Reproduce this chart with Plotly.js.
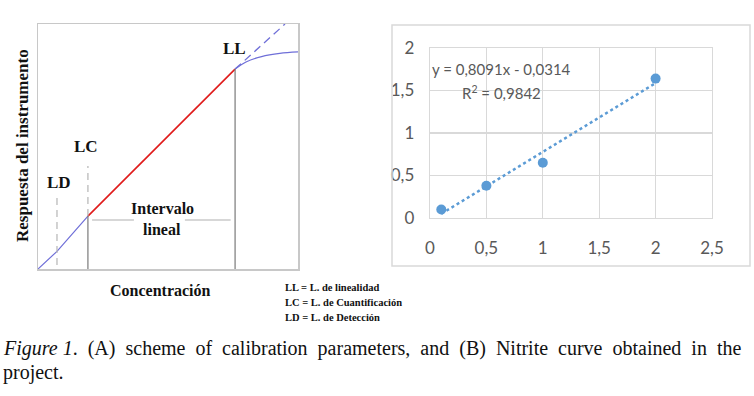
<!DOCTYPE html>
<html><head><meta charset="utf-8">
<script src="https://cdn.plot.ly/plotly-3.0.1.min.js"></script>
<style>html,body{margin:0;padding:0;background:#fff}#c{width:754px;height:396px}</style>
</head><body><div id="c"></div>
<script>
// ---- Panel B data (Nitrite calibration) ----
const concX = [0.1, 0.5, 1, 2];
const respY = [0.1, 0.38, 0.65, 1.64];
const trendX = [0.1, 2];
const trendY = [0.049, 1.587];
const xTickVals = [0, 0.5, 1, 1.5, 2, 2.5];
const xTickText = ['0', '0,5', '1', '1,5', '2', '2,5'];
const yTickVals = [0, 0.5, 1, 1.5, 2];
const yTickText = ['0', '0,5', '1', '1,5', '2'];

// ---- Panel A scheme (abstract units) ----
const lowX = [0, 0.5, 0.73, 1.92];
const lowY = [0, 0.5, 0.72, 2.16];
const linX = [1.92, 7.58];
const linY = [2.16, 8.16];
const extX = [7.58, 9.5];
const extY = [8.16, 10];
const satX = [7.58, 8.0, 8.6, 9.3, 10];
const satY = [8.16, 8.45, 8.67, 8.8, 8.86];
const ldX = [0.73, 0.73], ldY = [0.16, 3.02];
const lcDashX = [1.92, 1.92], lcDashY = [2.16, 4.2];
const lcSolX = [1.92, 1.92], lcSolY = [0, 2.16];
const llX = [7.58, 7.58], llY = [0, 8.16];
const ivX = [2.08, 3.69, null, 5.65, 7.41], ivY = [2.0, 2.0, null, 2.0, 2.0];

const W = 754, H = 396;
const px = v => v / W, py = v => 1 - v / H;

const serif = 'Liberation Serif, Times New Roman, serif';
const sans = 'Lato, Liberation Sans, sans-serif';
const blue = '#6f6fd8';

const traces = [
  {x: lowX, y: lowY, xaxis: 'x2', yaxis: 'y2', mode: 'lines', line: {color: blue, width: 1.2}},
  {x: linX, y: linY, xaxis: 'x2', yaxis: 'y2', mode: 'lines', line: {color: '#e01b1b', width: 1.6}},
  {x: extX, y: extY, xaxis: 'x2', yaxis: 'y2', mode: 'lines', line: {color: blue, width: 1.3, dash: '8px,5px'}},
  {x: satX, y: satY, xaxis: 'x2', yaxis: 'y2', mode: 'lines', line: {color: blue, width: 1.3, shape: 'spline'}},
  {x: ldX, y: ldY, xaxis: 'x2', yaxis: 'y2', mode: 'lines', line: {color: '#b5b5b5', width: 1.2, dash: '7px,5px'}},
  {x: lcDashX, y: lcDashY, xaxis: 'x2', yaxis: 'y2', mode: 'lines', line: {color: '#b5b5b5', width: 1.2, dash: '7px,5px'}},
  {x: lcSolX, y: lcSolY, xaxis: 'x2', yaxis: 'y2', mode: 'lines', line: {color: '#7a7a7a', width: 1.2}},
  {x: llX, y: llY, xaxis: 'x2', yaxis: 'y2', mode: 'lines', line: {color: '#7a7a7a', width: 1.2}},
  {x: ivX, y: ivY, xaxis: 'x2', yaxis: 'y2', mode: 'lines', connectgaps: false, line: {color: '#b0b0b0', width: 1.2}},
  // Panel B
  {x: trendX, y: trendY, xaxis: 'x', yaxis: 'y', mode: 'lines', line: {color: '#5b9bd5', width: 2.5, dash: 'dot'}},
  {x: concX, y: respY, xaxis: 'x', yaxis: 'y', mode: 'markers', marker: {color: '#5b9bd5', size: 10}}
];

const ann = (x, y, text, font, extra) => Object.assign({xref: 'paper', yref: 'paper', x: px(x), y: py(y), text, showarrow: false, font, xanchor: 'center', yanchor: 'middle'}, extra || {});
const bold17 = {family: serif, size: 17, color: '#111'};
const sp = ' &nbsp;';
const cap1 = ['<i>Figure 1</i>.', '(A)', 'scheme', 'of', 'calibration', 'parameters,', 'and', '(B)', 'Nitrite', 'curve', 'obtained', 'in', 'the'].join(sp);

const layout = {
  width: W, height: H, margin: {l: 0, r: 0, t: 0, b: 0},
  paper_bgcolor: '#fff', plot_bgcolor: 'rgba(0,0,0,0)', showlegend: false,
  xaxis: {domain: [px(430), px(712)], range: [0, 2.5], tickvals: xTickVals, ticktext: xTickText,
    showgrid: true, gridcolor: '#d9d9d9', gridwidth: 1.3, zeroline: false, showline: true, mirror: true,
    linecolor: '#d9d9d9', linewidth: 1.3, ticks: '', ticklabelstandoff: 14,
    tickfont: {family: sans, size: 17, color: '#595959'}, fixedrange: true},
  yaxis: {domain: [py(218), py(48)], range: [0, 2], tickvals: yTickVals, ticktext: yTickText,
    showgrid: true, gridcolor: '#d9d9d9', gridwidth: 1.3, zeroline: false, showline: true, mirror: true,
    linecolor: '#d9d9d9', linewidth: 1.3, ticks: '', ticklabelstandoff: 11,
    tickfont: {family: sans, size: 17, color: '#595959'}, fixedrange: true},
  xaxis2: {domain: [px(38), px(298)], range: [0, 10], anchor: 'y2', showgrid: false, zeroline: false,
    showticklabels: false, ticks: '', showline: true, mirror: true, linecolor: '#c8c8c8', linewidth: 1.5},
  yaxis2: {domain: [py(269), py(24)], range: [0, 10], anchor: 'x2', showgrid: false, zeroline: false,
    showticklabels: false, ticks: '', showline: true, mirror: true, linecolor: '#c8c8c8', linewidth: 1.5},
  shapes: [
    {type: 'rect', xref: 'paper', yref: 'paper', x0: px(392), x1: px(750), y0: py(266), y1: py(25),
     line: {color: '#d9d9d9', width: 1.5}, fillcolor: 'rgba(0,0,0,0)'}
  ],
  annotations: [
    {xref: 'x2', yref: 'y2', x: 0.81, y: 3.55, text: '<b>LD</b>', showarrow: false, font: bold17},
    {xref: 'x2', yref: 'y2', x: 1.85, y: 4.98, text: '<b>LC</b>', showarrow: false, font: bold17},
    {xref: 'x2', yref: 'y2', x: 7.54, y: 9.02, text: '<b>LL</b>', showarrow: false, font: bold17},
    {xref: 'x2', yref: 'y2', x: 4.77, y: 2.45, text: '<b>Intervalo</b>', showarrow: false,
     font: {family: serif, size: 16, color: '#111'}},
    {xref: 'x2', yref: 'y2', x: 4.77, y: 1.63, text: '<b>lineal</b>', showarrow: false,
     font: {family: serif, size: 16, color: '#111'}},
    ann(22, 146, '<b>Respuesta del instrumento</b>', {family: serif, size: 17, color: '#111'}, {textangle: -90}),
    ann(160, 290, '<b>Concentración</b>', {family: serif, size: 16, color: '#111'}),
    ann(283, 287, '<b>LL = L. de linealidad</b>', {family: serif, size: 10.5, color: '#111'}, {xanchor: 'left'}),
    ann(283, 302, '<b>LC = L. de Cuantificación</b>', {family: serif, size: 10.5, color: '#111'}, {xanchor: 'left'}),
    ann(283, 317, '<b>LD = L. de Detección</b>', {family: serif, size: 10.5, color: '#111'}, {xanchor: 'left'}),
    {xref: 'x', yref: 'y', x: 0.63, y: 1.75, text: 'y = 0,8091x - 0,0314', showarrow: false,
     font: {family: sans, size: 15, color: '#595959'}},
    {xref: 'x', yref: 'y', x: 0.63, y: 1.48, text: 'R<sup>2</sup> = 0,9842', showarrow: false,
     font: {family: sans, size: 15, color: '#595959'}},
    ann(1, 348, cap1, {family: serif, size: 20, color: '#111'}, {xanchor: 'left'}),
    ann(1, 372, 'project.', {family: serif, size: 20, color: '#111'}, {xanchor: 'left'})
  ]
};

Plotly.newPlot('c', traces, layout, {staticPlot: true, displayModeBar: false});
</script></body></html>
